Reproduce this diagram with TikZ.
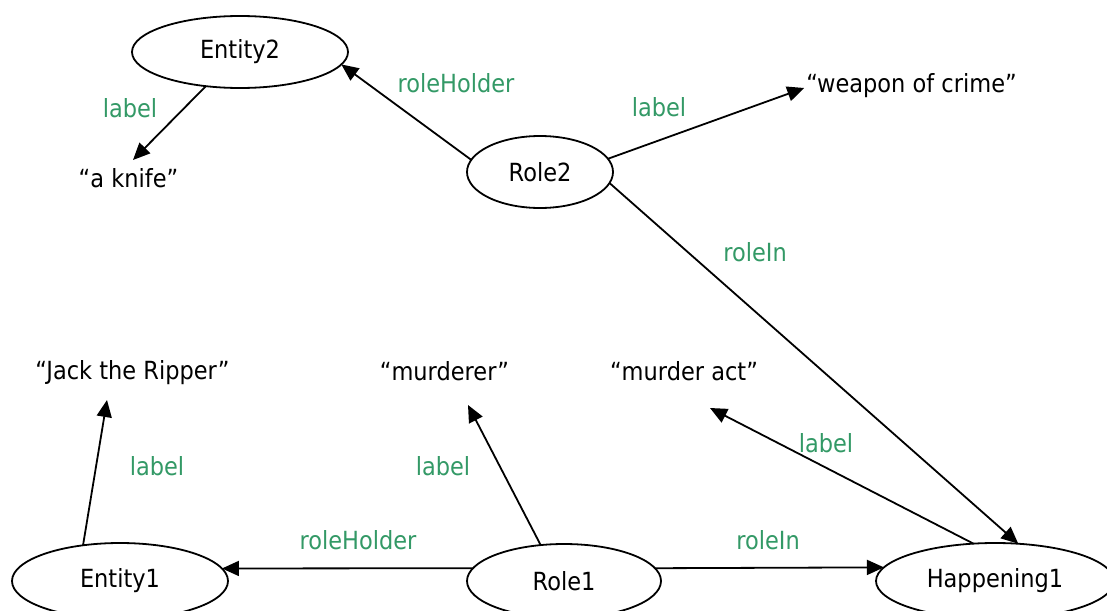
\documentclass[tikz,border=0pt]{standalone}
\usepackage{fontspec}
\setmainfont{DejaVu Sans}[FakeStretch=0.9]
\usepackage{xcolor}
\usepackage{tikz}
\usetikzlibrary{shapes.geometric,arrows.meta}
\definecolor{relgreen}{RGB}{51,153,102}

\begin{document}
\begin{tikzpicture}[x=1pt, y=-1pt,
    every node/.style={font=\fontsize{25}{30}\selectfont, inner sep=0pt, outer sep=0pt},
    thing/.style={ellipse, draw, line width=1.8pt},
    lit/.style={anchor=base},
    rel/.style={text=relgreen},
    link/.style={-{Triangle[length=17pt,width=15pt]}, line width=1.8pt}
    ]
  \useasboundingbox (0,0) rectangle (1107,610);

  % resources
  \node[thing, minimum width=216pt, minimum height=72pt] (e2) at (240,52) {Entity2};
  \node[thing, minimum width=146pt, minimum height=72pt] (r2) at (540,172) {Role2};
  \node[thing, minimum width=216pt, minimum height=76pt] (e1) at (120,581) {Entity1};
  \node[thing, minimum width=194pt, minimum height=74pt] (r1) at (564,581) {Role1};
  \node[thing, minimum width=238pt, minimum height=76pt] (h1) at (995,581) {Happening1};

  % literals
  \node[lit] (knife) at (128.5,187) {“a knife”};
  \node[lit] (weapon) at (911.5,92) {“weapon of crime”};
  \node[lit] (jack) at (132.5,379) {“Jack the Ripper”};
  \node[lit] (murderer) at (444.5,380) {“murderer”};
  \node[lit] (act) at (684,380) {“murder act”};

  % properties
  \draw[link] (r2.170) -- (e2.-7);
  \draw[link] (e2.225) -- ([shift={(4.5,-27)}]knife.base);
  \draw[link] (r2.11) -- ([shift={(-2,-4)}]weapon.base west);
  \draw[link] (r2.-9) -- (h1.58);
  \draw[link] (e1.136) -- ([shift={(-25.5,21)}]jack.base);
  \draw[link] (r1.123) -- ([shift={(23.5,25)}]murderer.base);
  \draw[link] (h1.120) -- ([shift={(26,28)}]act.base);
  \draw[link] (r1.172) -- (e1.7);
  \draw[link] (r1.8) -- (h1.173);

  \node[rel] (hold2) at (456,83) {roleHolder};
  \node[rel] (lab2) at (130,108) {label};
  \node[rel] (labw) at (659,107) {label};
  \node[rel] (in2) at (755,252) {roleIn};
  \node[rel] (labj) at (157,466) {label};
  \node[rel] (labm) at (443,466) {label};
  \node[rel] (laba) at (826,443) {label};
  \node[rel] (hold1) at (358,540) {roleHolder};
  \node[rel] (in1) at (768,540) {roleIn};
\end{tikzpicture}
\end{document}
